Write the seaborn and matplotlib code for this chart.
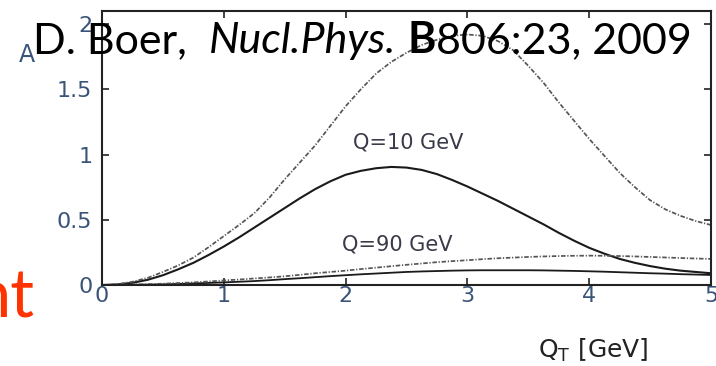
import numpy as np
import pandas as pd
import matplotlib
matplotlib.use("Agg")
import matplotlib.pyplot as plt
import seaborn as sns

# transverse momentum grid [GeV], step 0.125
qt = [i * 0.125 for i in range(41)]

# asymmetry A, Q = 10 GeV
a10_solid = [0.0, 0.004, 0.017, 0.04, 0.075, 0.12, 0.17, 0.23, 0.295, 0.365,
             0.44, 0.515, 0.59, 0.665, 0.735, 0.795, 0.845, 0.875, 0.895, 0.905,
             0.9, 0.882, 0.85, 0.805, 0.755, 0.70, 0.645, 0.585, 0.525, 0.465,
             0.40, 0.34, 0.285, 0.24, 0.2, 0.17, 0.145, 0.125, 0.11, 0.1, 0.09]
a10_dashdot = [0.0, 0.006, 0.025, 0.055, 0.10, 0.15, 0.21, 0.29, 0.375, 0.46,
               0.55, 0.67, 0.81, 0.94, 1.07, 1.22, 1.37, 1.50, 1.62, 1.71,
               1.78, 1.84, 1.88, 1.91, 1.92, 1.91, 1.87, 1.80, 1.68, 1.55,
               1.40, 1.26, 1.12, 0.99, 0.86, 0.75, 0.65, 0.58, 0.53, 0.49, 0.46]

# asymmetry A, Q = 90 GeV
a90_solid = [0.0, 0.0005, 0.002, 0.003, 0.005, 0.008, 0.012, 0.016, 0.02, 0.025,
             0.03, 0.037, 0.045, 0.052, 0.06, 0.068, 0.075, 0.082, 0.088, 0.094,
             0.1, 0.104, 0.107, 0.11, 0.112, 0.113, 0.113, 0.113, 0.113, 0.112,
             0.11, 0.108, 0.105, 0.102, 0.098, 0.094, 0.09, 0.087, 0.083, 0.08, 0.077]
a90_dashdot = [0.0, 0.001, 0.003, 0.006, 0.01, 0.015, 0.02, 0.027, 0.035, 0.042,
               0.05, 0.058, 0.067, 0.078, 0.09, 0.1, 0.11, 0.122, 0.133, 0.144,
               0.155, 0.165, 0.175, 0.183, 0.19, 0.198, 0.205, 0.21, 0.215, 0.219,
               0.222, 0.224, 0.225, 0.224, 0.222, 0.219, 0.215, 0.211, 0.207, 0.203, 0.2]

x_ticks = [0, 1, 2, 3, 4, 5]
y_ticks = [0, 0.5, 1, 1.5, 2]
y_tick_labels = ["0", "0.5", "1", "1.5", "2"]

sns.set_theme(style="white")
plt.rcParams["font.family"] = ["DejaVu Sans"]

fig = plt.figure(figsize=(7.16, 3.66), dpi=100)
ax = fig.add_axes([0.1425, 0.2213, 0.8505, 0.7486])

curves = pd.DataFrame({
    "qt": qt * 4,
    "A": a10_solid + a10_dashdot + a90_solid + a90_dashdot,
    "curve": (["10s"] * len(qt) + ["10d"] * len(qt)
              + ["90s"] * len(qt) + ["90d"] * len(qt)),
})

dashdot = (0, (2.6, 1.0, 0.7, 1.0))
styles = {
    "10s": dict(color="#1a1a1a", lw=1.5, ls="-"),
    "10d": dict(color="#555555", lw=1.25, ls=dashdot),
    "90s": dict(color="#1a1a1a", lw=1.3, ls="-"),
    "90d": dict(color="#555555", lw=1.25, ls=dashdot),
}
for key, st in styles.items():
    sns.lineplot(data=curves[curves["curve"] == key], x="qt", y="A",
                 ax=ax, color=st["color"], linewidth=st["lw"],
                 linestyle=st["ls"], legend=False)

ax.set_xlim(0, 5)
ax.set_ylim(0, 2.1)
ax.set_xlabel("")
ax.set_ylabel("")

tick_color = "#3a5478"
ax.set_xticks(x_ticks)
ax.set_xticklabels([str(t) for t in x_ticks])
ax.set_yticks(y_ticks)
ax.set_yticklabels(y_tick_labels)
ax.tick_params(axis="both", direction="in", length=5, width=1.2,
               color="#222222", labelcolor=tick_color, labelsize=16,
               top=True, right=True, bottom=True, left=True)
ax.tick_params(axis="y", pad=7)
ax.tick_params(axis="x", pad=1)
ax.tick_params(labeltop=False, labelright=False)
for side in ["left", "right", "top", "bottom"]:
    ax.spines[side].set_visible(True)
    ax.spines[side].set_color("#222222")
    ax.spines[side].set_linewidth(1.5)

label_color = "#3a3a48"
ax.text(2.06, 1.09, "Q=10 GeV", fontsize=15, color=label_color,
        ha="left", va="center")
ax.text(1.97, 0.31, "Q=90 GeV", fontsize=15, color=label_color,
        ha="left", va="center")

fig.text(27 / 716, 1 - 55 / 366, "A", fontsize=17, color=tick_color,
         ha="center", va="center")
fig.text(593 / 716, 1 - 350 / 366, r"Q$_\mathregular{T}$ [GeV]", fontsize=18,
         color="#222222", ha="center", va="center")

# citation line: plain, italic and bold pieces laid out one after another
pieces = [("D. Boer,  ", "normal", "normal"),
          ("Nucl.Phys.", "italic", "normal"),
          (" ", "normal", "normal"),
          ("B", "normal", "bold"),
          ("806:23, 2009", "normal", "normal")]
fig.canvas.draw()
renderer = fig.canvas.get_renderer()
x_px = 33
base_y = 1 - 53 / 366
for txt, style, weight in pieces:
    t = fig.text(x_px / 716, base_y, txt, fontsize=31, family="Lato",
                 style=style, weight=weight, color="black",
                 ha="left", va="baseline")
    bb = t.get_window_extent(renderer=renderer)
    x_px = bb.x1

fig.text(34 / 716, 1 - 318 / 366, "nt", fontsize=48, family="Lato",
         color="#ff3300", ha="right", va="baseline")

fig.savefig("out.png", dpi=100, facecolor="white")
